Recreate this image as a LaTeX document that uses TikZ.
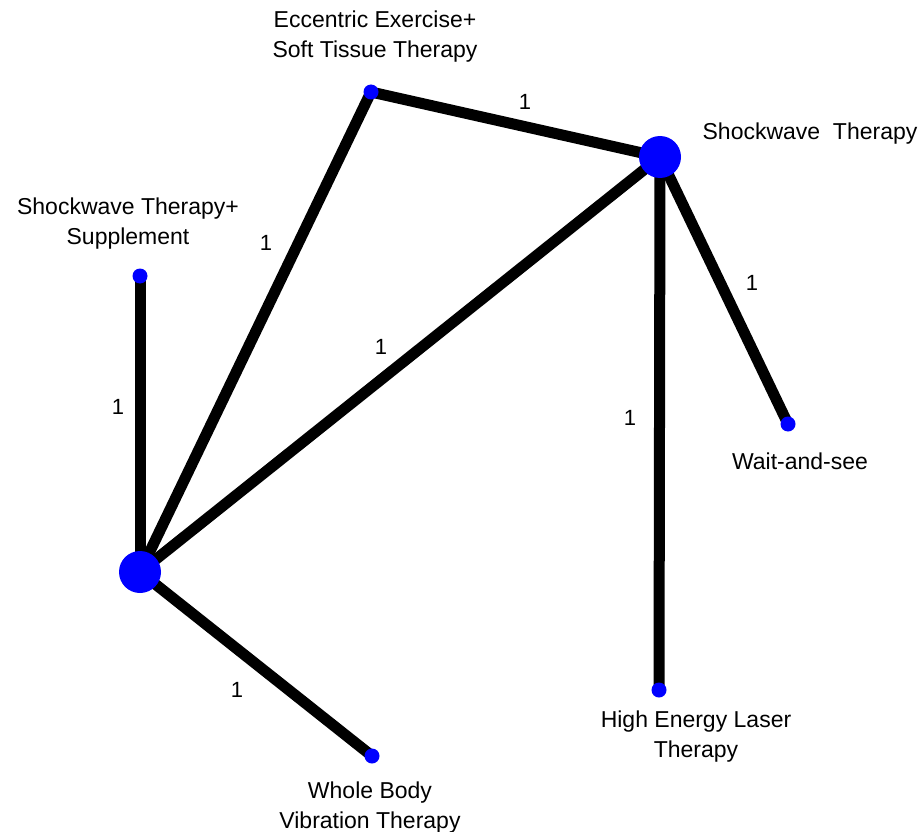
\documentclass[tikz,border=0pt]{standalone}
\usepackage{fontspec}
\setmainfont{Liberation Sans}
\usetikzlibrary{backgrounds}

\tikzset{
  big/.style={circle, fill=blue, inner sep=0pt, minimum size=42pt},
  small/.style={circle, fill=blue, inner sep=0pt, minimum size=15pt},
  edge/.style={line width=11pt, black},
  lbl/.style={align=center, font=\fontsize{23}{30}\selectfont},
  num/.style={font=\fontsize{22}{26}\selectfont}
}

\begin{document}
\begin{tikzpicture}[x=1pt,y=-1pt]
\useasboundingbox (0,0) rectangle (921,832);

\node[small] (ee) at (371,92) {};
\node[big] (sw) at (660,157) {};
\node[small] (sws) at (140,276) {};
\node[big] (hub) at (140,572) {};
\node[small] (wait) at (788,424) {};
\node[small] (hel) at (659,690) {};
\node[small] (wbv) at (372,756) {};

\node[lbl] (eetxt) at (375,37) {Eccentric Exercise+\\Soft Tissue Therapy};
\node[lbl] (swtxt) at (810,134) {Shockwave\ \ Therapy};
\node[lbl] (swstxt) at (128,224) {Shockwave Therapy+\\Supplement};
\node[lbl] (waittxt) at (800,461) {Wait-and-see};
\node[lbl] (heltxt) at (696,737) {High Energy Laser\\Therapy};
\node[lbl] (wbvtxt) at (370,808) {Whole Body\\Vibration Therapy};

\node[num] (n1) at (525,102) {1};
\node[num] (n2) at (266,243) {1};
\node[num] (n3) at (381,347) {1};
\node[num] (n4) at (752,283) {1};
\node[num] (n5) at (630,418) {1};
\node[num] (n6) at (118,407) {1};
\node[num] (n7) at (237,690) {1};

\begin{pgfonlayer}{background}
\foreach \from/\to in {ee/sw, ee/hub, sw/hub, sw/wait, sw/hel, sws/hub, hub/wbv}
	\draw[edge] (\from.center) -- (\to.center);
\end{pgfonlayer}

\end{tikzpicture}
\end{document}
